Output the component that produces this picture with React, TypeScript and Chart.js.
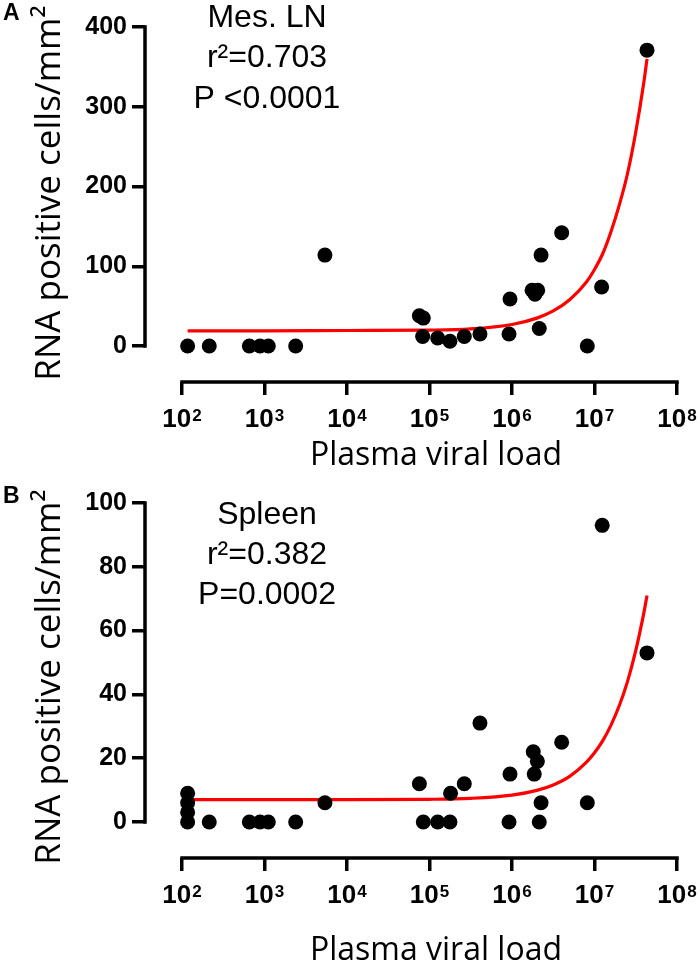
import React, { useEffect, useRef } from 'react';
import { Chart, registerables } from 'chart.js';

Chart.register(...registerables);

// ---- data ----
const X_TICKS = [1e2, 1e3, 1e4, 1e5, 1e6, 1e7, 1e8];
const X_TICK_BASE = '10';
const X_TICK_EXPONENTS = ['2', '3', '4', '5', '6', '7', '8'];

const A_Y_TICKS = [0, 100, 200, 300, 400];
const B_Y_TICKS = [0, 20, 40, 60, 80, 100];

const A_X = [117, 214, 655, 882, 1112, 2387, 5400, 75400, 84100, 82600, 125600, 177000, 264000, 409000, 946000, 920000, 1750000, 2050000, 1900000, 2250000, 2140000, 4000000, 8180000, 12200000, 43300000];
const A_Y = [0, 0, 0, 0, 0, 0, 114, 38, 35, 12, 10, 6, 12, 15, 59, 15, 70, 70, 65, 114, 22, 142, 0, 74, 371];

const B_X = [117, 117, 117, 117, 214, 655, 882, 1112, 2387, 5400, 75400, 84100, 125600, 177000, 180000, 264000, 409000, 946000, 920000, 1810000, 2030000, 1860000, 2250000, 2140000, 4000000, 8180000, 12400000, 43300000];
const B_Y = [9, 6, 3, 0, 0, 0, 0, 0, 0, 6, 12, 0, 0, 0, 9, 12, 31, 15, 0, 22, 19, 15, 6, 0, 25, 6, 93, 53];

// fit curves
const FIT_X = [117, 1e3, 1e4, 1e5, 3.16e5, 1e6, 2e6, 3.16e6, 5e6, 7.94e6, 1e7, 1.26e7, 1.58e7, 2e7, 2.51e7, 3.16e7, 3.98e7, 4.33e7];
const A_FIT_Y = [19, 19, 19.5, 20, 21.5, 27, 35, 44, 58, 80, 96, 116, 143, 177, 216, 268, 332, 360];
const B_FIT_Y = [7, 7, 7, 7.1, 7.4, 8.4, 9.9, 11.6, 14.3, 18.7, 21.7, 25.5, 30.3, 36.5, 44, 53.7, 65.8, 71];

const A_NOTE = ['Mes. LN', 'r²=0.703', 'P <0.0001'];
const B_NOTE = ['Spleen', 'r²=0.382', 'P=0.0002'];

const Y_TITLE = 'RNA positive cells/mm²';
const X_TITLE = 'Plasma viral load';

type PanelCfg = {
  letter: string;
  xs: number[];
  ys: number[];
  fitY: number[];
  yTicks: number[];
  yMin: number;
  notes: string[];
  layout: {
    padTop: number;
    xScaleH: number;
    noteBase: number[];
    yTitleCY: number;
    xTitleBase: number;
    letterBase: number;
  };
};

const PANELS: PanelCfg[] = [
  {
    letter: 'A', xs: A_X, ys: A_Y, fitY: A_FIT_Y, yTicks: A_Y_TICKS, yMin: -45.1, notes: A_NOTE,
    layout: { padTop: 27, xScaleH: 100, noteBase: [27, 67, 108], yTitleCY: 193, xTitleBase: 465, letterBase: 20 },
  },
  {
    letter: 'B', xs: B_X, ys: B_Y, fitY: B_FIT_Y, yTicks: B_Y_TICKS, yMin: -11.3, notes: B_NOTE,
    layout: { padTop: 21, xScaleH: 106, noteBase: [42, 82, 122], yTitleCY: 195, xTitleBase: 478, letterBase: 21 },
  },
];

const W = 700;
const H = 482;
const AXIS_W = 3.5;
const SANS = '"Liberation Sans", Arial, sans-serif';
const TICK_FONT = { family: SANS, size: 25, weight: 'bold' as const };

function Panel({ cfg }: { cfg: PanelCfg }) {
  const ref = useRef<HTMLCanvasElement | null>(null);
  useEffect(() => {
    if (!ref.current) return;
    const L = cfg.layout;
    const overlay = {
      id: 'prismOverlay',
      afterDraw(chart: any) {
        const ctx = chart.ctx as CanvasRenderingContext2D;
        const xs = chart.scales.x;
        const ys = chart.scales.y;
        const ca = chart.chartArea;
        ctx.save();
        ctx.strokeStyle = '#000';
        ctx.lineWidth = AXIS_W;
        ctx.lineCap = 'square';
        ctx.beginPath();
        ctx.moveTo(xs.getPixelForValue(X_TICKS[0]), ca.bottom);
        ctx.lineTo(xs.getPixelForValue(X_TICKS[X_TICKS.length - 1]), ca.bottom);
        ctx.moveTo(ca.left, ys.getPixelForValue(cfg.yTicks[0]));
        ctx.lineTo(ca.left, ys.getPixelForValue(cfg.yTicks[cfg.yTicks.length - 1]));
        ctx.stroke();

        ctx.fillStyle = '#000';
        // x tick labels (10 with superscript exponent)
        ctx.textBaseline = 'alphabetic';
        ctx.textAlign = 'left';
        const base = ca.bottom + 44.5;
        xs.ticks.forEach((t: any, i: number) => {
          const px = xs.getPixelForValue(t.value);
          ctx.font = `bold 26px ${SANS}`;
          const wb = ctx.measureText(X_TICK_BASE).width;
          ctx.font = `bold 17px ${SANS}`;
          const we = ctx.measureText(X_TICK_EXPONENTS[i]).width;
          const x0 = px - (wb + 1 + we) / 2;
          ctx.font = `bold 26px ${SANS}`;
          ctx.fillText(X_TICK_BASE, x0, base);
          ctx.font = `bold 17px ${SANS}`;
          ctx.fillText(X_TICK_EXPONENTS[i], x0 + wb + 1, base - 6);
        });
        // panel letter
        ctx.font = `bold 23px ${SANS}`;
        ctx.fillText(cfg.letter, 3, L.letterBase);
        // annotation
        ctx.font = `32px ${SANS}`;
        ctx.textAlign = 'center';
        cfg.notes.forEach((t, i) => ctx.fillText(t, 267, L.noteBase[i]));
        // x title
        ctx.font = '32px "Open Sans", sans-serif';
        ctx.fillText(X_TITLE, 436, L.xTitleBase);
        // y title
        ctx.save();
        ctx.translate(50, L.yTitleCY);
        ctx.rotate(-Math.PI / 2);
        ctx.textBaseline = 'middle';
        ctx.font = '35px "Open Sans", sans-serif';
        ctx.fillText(Y_TITLE, 0, 0);
        ctx.restore();
        ctx.restore();
      },
    };

    const chart = new Chart(ref.current, {
      type: 'scatter',
      data: {
        datasets: [
          {
            data: cfg.xs.map((x, i) => ({ x, y: cfg.ys[i] })),
            backgroundColor: '#000',
            borderWidth: 0,
            pointRadius: 7.5,
            order: 0,
          },
          {
            data: FIT_X.map((x, i) => ({ x, y: cfg.fitY[i] })),
            showLine: true,
            borderColor: '#ff0000',
            borderWidth: 3.2,
            pointRadius: 0,
            cubicInterpolationMode: 'monotone',
            order: 1,
          } as any,
        ],
      },
      options: {
        animation: false,
        responsive: false,
        events: [],
        layout: { padding: { top: L.padTop, right: W - 677, bottom: 0, left: 0 } },
        plugins: { legend: { display: false }, tooltip: { enabled: false } },
        scales: {
          x: {
            type: 'logarithmic',
            min: Math.pow(10, 2 - 37 / 82.5),
            max: 1e8,
            border: { display: false },
            grid: { display: true, drawOnChartArea: false, drawTicks: true, tickLength: 13, color: '#000', lineWidth: AXIS_W },
            ticks: { display: false },
            afterBuildTicks: (s: any) => { s.ticks = X_TICKS.map((value) => ({ value })); },
            afterFit: (s: any) => { s.height = L.xScaleH; s.paddingLeft = 0; s.paddingRight = 0; },
          },
          y: {
            type: 'linear',
            min: cfg.yMin,
            max: cfg.yTicks[cfg.yTicks.length - 1],
            border: { display: false },
            grid: { display: true, drawOnChartArea: false, drawTicks: true, tickLength: 13, color: '#000', lineWidth: AXIS_W },
            ticks: { padding: 5, color: '#000', font: TICK_FONT },
            afterBuildTicks: (s: any) => { s.ticks = cfg.yTicks.map((value) => ({ value })); },
            afterFit: (s: any) => { s.width = 145; s.paddingTop = 0; s.paddingBottom = 0; },
          },
        },
      } as any,
      plugins: [overlay],
    });
    return () => chart.destroy();
  }, [cfg]);
  return <canvas ref={ref} width={W} height={H} style={{ display: 'block', width: W, height: H }} />;
}

export default function App() {
  return (
    <div style={{ position: 'absolute', left: 0, top: 0, width: W, height: 2 * H, background: '#fff' }}>
      {PANELS.map((p) => (
        <Panel key={p.letter} cfg={p} />
      ))}
    </div>
  );
}
